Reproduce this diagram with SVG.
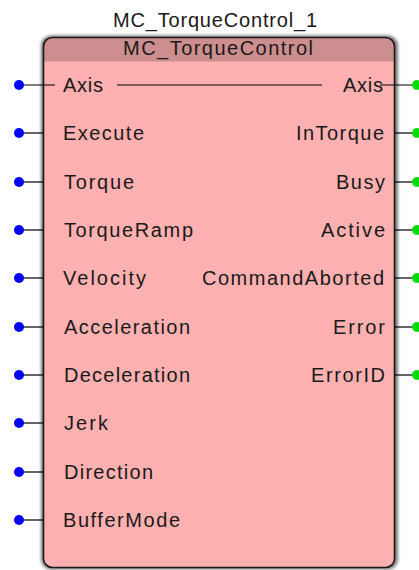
<svg xmlns="http://www.w3.org/2000/svg" width="419" height="570" viewBox="0 0 419 570">
<style>
text{font-family:"Liberation Sans",Arial,sans-serif;font-size:20px;fill:#1a1a1a;}
.l{text-anchor:start;}
.r{text-anchor:end;}
.w{stroke:#000;stroke-width:1.2;fill:none;}
.in{fill:#0000ff;}
.out{fill:#00dd00;}
</style>
<defs>
<filter id="sh" x="-5%" y="-5%" width="110%" height="110%">
<feGaussianBlur stdDeviation="1.5"/>
</filter>
<clipPath id="bx"><rect x="43.5" y="37.5" width="351" height="530" rx="9"/></clipPath>
</defs>
<text x="215" y="27" text-anchor="middle" textLength="204" lengthAdjust="spacing">MC_TorqueControl_1</text>
<g id="block">
<rect x="41" y="35.5" width="357" height="534" rx="10" fill="#7a7a7a" filter="url(#sh)"/>
<rect x="43.5" y="37.5" width="351" height="530" rx="9" fill="#ffb0b0"/>
<rect x="43.5" y="37.5" width="351" height="24" fill="#cc8e8e" clip-path="url(#bx)"/>
<rect x="43.5" y="37.5" width="351" height="530" rx="9" fill="none" stroke="#1a1a1a" stroke-width="1.6"/>
<text x="218" y="55" text-anchor="middle" textLength="190" lengthAdjust="spacing">MC_TorqueControl</text>
</g>
<g id="connectors">
<line class="w" x1="19" y1="85" x2="55" y2="85"/>
<line class="w" x1="117" y1="85" x2="322" y2="85"/>
<line class="w" x1="380" y1="85" x2="416" y2="85"/>
<line class="w" x1="19" y1="133" x2="43" y2="133"/>
<line class="w" x1="19" y1="182" x2="43" y2="182"/>
<line class="w" x1="19" y1="230" x2="43" y2="230"/>
<line class="w" x1="19" y1="278" x2="43" y2="278"/>
<line class="w" x1="19" y1="327" x2="43" y2="327"/>
<line class="w" x1="19" y1="375" x2="43" y2="375"/>
<line class="w" x1="19" y1="423" x2="43" y2="423"/>
<line class="w" x1="19" y1="472" x2="43" y2="472"/>
<line class="w" x1="19" y1="520" x2="43" y2="520"/>
<line class="w" x1="395" y1="133" x2="416" y2="133"/>
<line class="w" x1="395" y1="182" x2="416" y2="182"/>
<line class="w" x1="395" y1="230" x2="416" y2="230"/>
<line class="w" x1="395" y1="278" x2="416" y2="278"/>
<line class="w" x1="395" y1="327" x2="416" y2="327"/>
<line class="w" x1="395" y1="375" x2="416" y2="375"/>
</g>
<g id="in-Axis"><circle class="in" cx="19" cy="85" r="5"/><text class="l" x="63" y="92" textLength="40" lengthAdjust="spacing">Axis</text></g>
<g id="in-Execute"><circle class="in" cx="19" cy="133" r="5"/><text class="l" x="63" y="140" textLength="81" lengthAdjust="spacing">Execute</text></g>
<g id="in-Torque"><circle class="in" cx="19" cy="182" r="5"/><text class="l" x="64" y="189" textLength="70" lengthAdjust="spacing">Torque</text></g>
<g id="in-TorqueRamp"><circle class="in" cx="19" cy="230" r="5"/><text class="l" x="64" y="237" textLength="129" lengthAdjust="spacing">TorqueRamp</text></g>
<g id="in-Velocity"><circle class="in" cx="19" cy="278" r="5"/><text class="l" x="63" y="285" textLength="83" lengthAdjust="spacing">Velocity</text></g>
<g id="in-Acceleration"><circle class="in" cx="19" cy="327" r="5"/><text class="l" x="64" y="334" textLength="126" lengthAdjust="spacing">Acceleration</text></g>
<g id="in-Deceleration"><circle class="in" cx="19" cy="375" r="5"/><text class="l" x="64" y="382" textLength="126" lengthAdjust="spacing">Deceleration</text></g>
<g id="in-Jerk"><circle class="in" cx="19" cy="423" r="5"/><text class="l" x="64" y="430" textLength="44" lengthAdjust="spacing">Jerk</text></g>
<g id="in-Direction"><circle class="in" cx="19" cy="472" r="5"/><text class="l" x="64" y="479" textLength="89" lengthAdjust="spacing">Direction</text></g>
<g id="in-BufferMode"><circle class="in" cx="19" cy="520" r="5"/><text class="l" x="63" y="527" textLength="117" lengthAdjust="spacing">BufferMode</text></g>
<g id="out-Axis"><circle class="out" cx="417" cy="85" r="5"/><text class="r" x="383" y="92" textLength="40" lengthAdjust="spacing">Axis</text></g>
<g id="out-InTorque"><circle class="out" cx="417" cy="133" r="5"/><text class="r" x="384" y="140" textLength="88" lengthAdjust="spacing">InTorque</text></g>
<g id="out-Busy"><circle class="out" cx="417" cy="182" r="5"/><text class="r" x="385" y="189" textLength="49" lengthAdjust="spacing">Busy</text></g>
<g id="out-Active"><circle class="out" cx="417" cy="230" r="5"/><text class="r" x="385" y="237" textLength="64" lengthAdjust="spacing">Active</text></g>
<g id="out-CommandAborted"><circle class="out" cx="417" cy="278" r="5"/><text class="r" x="384" y="285" textLength="182" lengthAdjust="spacing">CommandAborted</text></g>
<g id="out-Error"><circle class="out" cx="417" cy="327" r="5"/><text class="r" x="385" y="334" textLength="52" lengthAdjust="spacing">Error</text></g>
<g id="out-ErrorID"><circle class="out" cx="417" cy="375" r="5"/><text class="r" x="385" y="382" textLength="74" lengthAdjust="spacing">ErrorID</text></g>
</svg>
